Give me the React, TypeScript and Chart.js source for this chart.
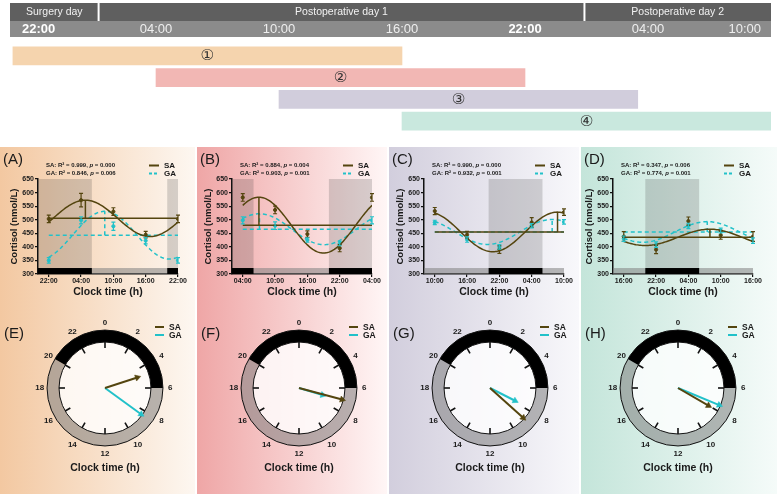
import React, { useEffect, useRef } from 'react';
import { Chart, registerables } from 'chart.js';

Chart.register(...registerables);

const FONT = '"Liberation Sans", Arial, Helvetica, sans-serif';
const SA_COLOR = '#54450f';
const GA_COLOR = '#22c1c9';
const TEXT = '#1a1a1a';

// ---------- header / sampling windows ----------
const dayLabels = ['Surgery day', 'Postoperative day 1', 'Postoperative day 2'];
const dayBreakHours = [3.2, 26.9];
const headerTickHours = [0, 6, 12, 18, 24, 30, 36];
const headerTickLabels = ['22:00', '04:00', '10:00', '16:00', '22:00', '04:00', '10:00'];
const headerTickBold = [true, false, false, false, true, false, false];
const windowLabels = ['\u2460', '\u2461', '\u2462', '\u2463'];
const windowStart = [-1, 6, 12, 18];
const windowEnd = [18, 24, 29.5, 36];
const windowColors = ['#f5d4ae', '#f2b7b4', '#d1cddc', '#c9e8de'];

// ---------- panels ----------
const panelLetters = ['A', 'B', 'C', 'D'];
const clockLetters = ['E', 'F', 'G', 'H'];
const panelStartClock = [22, 4, 10, 16];
const sampleHours = [0, 6, 12, 18, 24];
const tickLabelsA = ['22:00', '04:00', '10:00', '16:00', '22:00'];
const tickLabelsB = ['04:00', '10:00', '16:00', '22:00', '04:00'];
const tickLabelsC = ['10:00', '16:00', '22:00', '04:00', '10:00'];
const tickLabelsD = ['16:00', '22:00', '04:00', '10:00', '16:00'];
const yTicksMin = 300;
const yTicksMax = 650;

const saMeanA = [503, 572, 530, 445, 503];
const saSemA = [14, 25, 14, 12, 14];
const gaMeanA = [350, 498, 476, 423, 350];
const gaSemA = [10, 13, 15, 12, 10];

const saMeanB = [582, 536, 447, 395, 582];
const saSemB = [14, 14, 12, 13, 14];
const gaMeanB = [498, 478, 425, 412, 498];
const gaSemB = [13, 14, 8, 8, 13];

const saMeanC = [532, 445, 390, 490, 528];
const saSemC = [13, 12, 14, 18, 12];
const gaMeanC = [490, 427, 400, 478, 492];
const gaSemC = [8, 10, 8, 8, 8];

const saMeanD = [438, 390, 495, 443, 438];
const saSemD = [18, 15, 15, 15, 18];
const gaMeanD = [430, 408, 477, 460, 423];
const gaSemD = [10, 10, 10, 9, 10];

const saMesor = [505, 480, 455, 435];
const saAmplitude = [67, 103, 73, 30];
const saAcrophase = [4.8, 7.0, 8.8, 8.0];
const gaMesor = [443, 465, 455, 455];
const gaAmplitude = [88, 57, 46, 38];
const gaAcrophase = [8.4, 7.1, 7.8, 7.5];

const saR2 = ['0.999', '0.884', '0.990', '0.347'];
const saP = ['0.000', '0.004', '0.000', '0.006'];
const gaR2 = ['0.846', '0.903', '0.932', '0.774'];
const gaP = ['0.006', '0.001', '0.001', '0.001'];

const nightStartClock = 20;
const nightHours = 10;
const bandTopValue = 322;
const clockHourLabels = [0, 2, 4, 6, 8, 10, 12, 14, 16, 18, 20, 22];

// ---------- layout ----------
const panelLeft = [0, 197, 389, 581];
const panelWidth = [195, 190, 190, 196];
const panelGradFrom = ['#f3c8a1', '#efa6a6', '#d2cedd', '#c4e5da'];
const panelGradTo = ['#fdf7f1', '#fff6f6', '#f8f8fb', '#f5fbf9'];
const plotInset = [38, 35, 35, 32];
const plotWidth = 140;
const clockCenterX = [105, 102, 101, 97];

const tickLabelSets = [tickLabelsA, tickLabelsB, tickLabelsC, tickLabelsD];
const saMeans = [saMeanA, saMeanB, saMeanC, saMeanD];
const saSems = [saSemA, saSemB, saSemC, saSemD];
const gaMeans = [gaMeanA, gaMeanB, gaMeanC, gaMeanD];
const gaSems = [gaSemA, gaSemB, gaSemC, gaSemD];

function cosinorValue(mesor: number, amp: number, acro: number, clock: number) {
  return mesor + amp * Math.cos((2 * Math.PI * (clock - acro)) / 24);
}

function fittedCurve(start: number, mesor: number, amp: number, acro: number) {
  const pts: any[] = [];
  for (let k = 0; k <= 96; k++) {
    const h = k * 0.25;
    pts.push({ x: h, y: cosinorValue(mesor, amp, acro, start + h) });
  }
  return pts;
}

// ---------- plugins ----------
const headerPlugin: any = {
  id: 'timelineHeader',
  beforeDraw(chart: any) {
    const { ctx, chartArea } = chart;
    const x = chart.scales.x;
    const left = chartArea.left - 2.5;
    const right = chartArea.right;
    ctx.save();
    ctx.fillStyle = '#5f5f5f';
    ctx.fillRect(left, 3, right - left, 18);
    ctx.fillStyle = '#8b8b8b';
    ctx.fillRect(left, 21, right - left, 16);
    const bounds = [left, ...dayBreakHours.map((h) => x.getPixelForValue(h)), right];
    ctx.strokeStyle = '#ffffff';
    ctx.lineWidth = 2;
    dayBreakHours.forEach((h) => {
      const px = x.getPixelForValue(h);
      ctx.beginPath();
      ctx.moveTo(px, 3);
      ctx.lineTo(px, 21);
      ctx.stroke();
    });
    ctx.textAlign = 'center';
    ctx.textBaseline = 'middle';
    ctx.fillStyle = '#f2f2f2';
    ctx.font = `10.5px ${FONT}`;
    dayLabels.forEach((t, i) => ctx.fillText(t, (bounds[i] + bounds[i + 1]) / 2, 12.5));
    headerTickHours.forEach((h, i) => {
      ctx.font = `${headerTickBold[i] ? 'bold ' : ''}13px ${FONT}`;
      ctx.fillStyle = headerTickBold[i] ? '#ffffff' : '#eeeeee';
      const half = ctx.measureText(headerTickLabels[i]).width / 2;
      let px = x.getPixelForValue(h);
      px = Math.max(px, left + half + 12);
      px = Math.min(px, right - half - 10);
      ctx.fillText(headerTickLabels[i], px, 29.5);
    });
    ctx.restore();
  },
  afterDatasetsDraw(chart: any) {
    const { ctx } = chart;
    const meta = chart.getDatasetMeta(0);
    ctx.save();
    ctx.font = `15px "DejaVu Sans", ${FONT}`;
    ctx.fillStyle = '#333333';
    ctx.textAlign = 'center';
    ctx.textBaseline = 'middle';
    meta.data.forEach((bar: any, i: number) => {
      const p = bar.getProps(['x', 'y', 'base'], true);
      ctx.fillText(chart.data.labels[i], (p.x + p.base) / 2, p.y + 0.5);
    });
    ctx.restore();
  },
};

function drawStat(ctx: any, x: number, y: number, label: string, r2: string, p: string) {
  const bold = `bold 6px ${FONT}`;
  const boldItalic = `italic bold 6px ${FONT}`;
  ctx.font = bold;
  const a = `${label}: R\u00b2 = ${r2}, `;
  ctx.fillText(a, x, y);
  let cx = x + ctx.measureText(a).width;
  ctx.font = boldItalic;
  ctx.fillText('p', cx, y);
  cx += ctx.measureText('p').width;
  ctx.font = bold;
  ctx.fillText(` = ${p}`, cx, y);
}

function drawLegendEntry(ctx: any, x0: number, x1: number, tx: number, y: number, color: string, dashed: boolean, label: string, size: number) {
  ctx.save();
  ctx.strokeStyle = color;
  ctx.lineWidth = 2;
  ctx.setLineDash(dashed ? [3, 2] : []);
  ctx.beginPath();
  ctx.moveTo(x0, y);
  ctx.lineTo(x1, y);
  ctx.stroke();
  ctx.setLineDash([]);
  ctx.fillStyle = TEXT;
  ctx.font = `bold ${size}px ${FONT}`;
  ctx.textAlign = 'left';
  ctx.textBaseline = 'middle';
  ctx.fillText(label, tx, y + 0.5);
  ctx.restore();
}

const cosinorDecor: any = {
  id: 'cosinorDecor',
  beforeDatasetsDraw(chart: any, _args: any, opts: any) {
    const { ctx, chartArea } = chart;
    const { x, y } = chart.scales;
    const start = panelStartClock[opts.panel];
    const base = (((nightStartClock - start) % 24) + 24) % 24;
    const yTop = y.getPixelForValue(y.max);
    const yBand = y.getPixelForValue(bandTopValue);
    const yBottom = y.getPixelForValue(y.min);
    ctx.save();
    ctx.fillStyle = 'rgba(128,128,128,0.55)';
    ctx.fillRect(chartArea.left, yBand, chartArea.right - chartArea.left, yBottom - yBand);
    for (let k = -2; k <= 2; k++) {
      const a = Math.max(x.min, base + 24 * k);
      const b = Math.min(x.max, base + 24 * k + nightHours);
      if (b <= a) continue;
      const xa = x.getPixelForValue(a);
      const xb = x.getPixelForValue(b);
      ctx.fillStyle = 'rgba(60,60,60,0.2)';
      ctx.fillRect(xa, yTop, xb - xa, yBand - yTop);
      ctx.fillStyle = '#000000';
      ctx.fillRect(xa, yBand, xb - xa, yBottom - yBand);
    }
    ctx.restore();
  },
  afterDatasetsDraw(chart: any) {
    const { ctx } = chart;
    const y = chart.scales.y;
    ctx.save();
    chart.data.datasets.forEach((ds: any, di: number) => {
      if (!ds.errorBars) return;
      const meta = chart.getDatasetMeta(di);
      ctx.strokeStyle = ds.borderColor;
      ctx.lineWidth = 1.2;
      meta.data.forEach((pt: any, j: number) => {
        const v = ds.data[j].y;
        const e = ds.errorBars[j];
        const y1 = y.getPixelForValue(v + e);
        const y2 = y.getPixelForValue(v - e);
        ctx.beginPath();
        ctx.moveTo(pt.x, y1);
        ctx.lineTo(pt.x, y2);
        ctx.moveTo(pt.x - 2, y1);
        ctx.lineTo(pt.x + 2, y1);
        ctx.moveTo(pt.x - 2, y2);
        ctx.lineTo(pt.x + 2, y2);
        ctx.stroke();
      });
    });
    ctx.restore();
  },
  afterDraw(chart: any, _args: any, opts: any) {
    const { ctx, chartArea } = chart;
    const i = opts.panel;
    ctx.save();
    ctx.fillStyle = TEXT;
    ctx.textAlign = 'left';
    ctx.textBaseline = 'middle';
    ctx.font = `15px ${FONT}`;
    ctx.fillText(`(${panelLetters[i]})`, 3, 14);
    drawStat(ctx, chartArea.left + 8, chartArea.top - 13.5, 'SA', saR2[i], saP[i]);
    drawStat(ctx, chartArea.left + 8, chartArea.top - 5.5, 'GA', gaR2[i], gaP[i]);
    ctx.restore();
    const r = chartArea.right;
    drawLegendEntry(ctx, r - 29, r - 19, r - 14, chartArea.top - 13.5, SA_COLOR, false, 'SA', 8);
    drawLegendEntry(ctx, r - 29, r - 19, r - 14, chartArea.top - 5.5, GA_COLOR, true, 'GA', 8);
  },
};

const clockDecor: any = {
  id: 'clockDecor',
  beforeDatasetsDraw(chart: any) {
    const { ctx } = chart;
    const { x, y } = chart.scales;
    const cx = x.getPixelForValue(0);
    const cy = y.getPixelForValue(0);
    const u = x.getPixelForValue(1) - cx;
    const rIn = u;
    const rOut = u * 1.26;
    const ang = (h: number) => ((h * 15 - 90) * Math.PI) / 180;
    ctx.save();
    ctx.beginPath();
    ctx.arc(cx, cy, rIn, 0, Math.PI * 2);
    ctx.fillStyle = 'rgba(255,255,255,0.8)';
    ctx.fill();
    const ring = (h0: number, h1: number, color: string) => {
      ctx.beginPath();
      ctx.arc(cx, cy, rOut, ang(h0), ang(h1));
      ctx.arc(cx, cy, rIn, ang(h1), ang(h0), true);
      ctx.closePath();
      ctx.fillStyle = color;
      ctx.fill();
    };
    const nightEnd = nightStartClock + nightHours;
    ring(nightEnd - 24, nightStartClock, 'rgba(128,128,128,0.55)');
    ring(nightStartClock, nightEnd, '#000000');
    ctx.strokeStyle = '#111111';
    ctx.lineWidth = 1;
    ctx.beginPath();
    ctx.arc(cx, cy, rOut, 0, Math.PI * 2);
    ctx.stroke();
    ctx.beginPath();
    ctx.arc(cx, cy, rIn, 0, Math.PI * 2);
    ctx.stroke();
    ctx.lineWidth = 1.6;
    clockHourLabels.forEach((h) => {
      const a = ang(h);
      ctx.beginPath();
      ctx.moveTo(cx + Math.cos(a) * rIn * 0.87, cy + Math.sin(a) * rIn * 0.87);
      ctx.lineTo(cx + Math.cos(a) * rIn, cy + Math.sin(a) * rIn);
      ctx.stroke();
    });
    ctx.fillStyle = TEXT;
    ctx.font = `bold 8px ${FONT}`;
    ctx.textAlign = 'center';
    ctx.textBaseline = 'middle';
    clockHourLabels.forEach((h) => {
      const a = ang(h);
      ctx.fillText(String(h), cx + Math.cos(a) * rIn * 1.42, cy + Math.sin(a) * rIn * 1.42);
    });
    ctx.restore();
  },
  afterDraw(chart: any, _args: any, opts: any) {
    const { ctx } = chart;
    const { x, y } = chart.scales;
    const cx = x.getPixelForValue(0);
    const cy = y.getPixelForValue(0);
    const i = opts.panel;
    ctx.save();
    ctx.fillStyle = TEXT;
    ctx.textBaseline = 'middle';
    ctx.textAlign = 'left';
    ctx.font = `15px ${FONT}`;
    ctx.fillText(`(${clockLetters[i]})`, 4, 34);
    ctx.textAlign = 'center';
    ctx.font = `bold 10.5px ${FONT}`;
    ctx.fillText('Clock time (h)', cx, cy + 80);
    ctx.restore();
    drawLegendEntry(ctx, cx + 50, cx + 59, cx + 64, 27, SA_COLOR, false, 'SA', 8.5);
    drawLegendEntry(ctx, cx + 50, cx + 59, cx + 64, 35, GA_COLOR, false, 'GA', 8.5);
  },
};

// ---------- configs ----------
function seriesDatasets(i: number, color: string, dashed: boolean, mesor: number, amp: number, acro: number, means: number[], sems: number[]) {
  const start = panelStartClock[i];
  const dash = dashed ? [4, 3] : [];
  const peakX = (((acro - start) % 24) + 24) % 24;
  const line = { borderColor: color, borderWidth: 1.5, borderDash: dash, pointRadius: 0, showLine: true, fill: false, tension: 0 };
  return [
    { ...line, data: fittedCurve(start, mesor, amp, acro) },
    { ...line, data: [{ x: sampleHours[0], y: mesor }, { x: sampleHours[sampleHours.length - 1], y: mesor }] },
    { ...line, data: [{ x: peakX, y: mesor }, { x: peakX, y: mesor + amp }] },
    {
      data: sampleHours.map((h, j) => ({ x: h, y: means[j] })),
      showLine: false,
      pointRadius: 1.6,
      pointBackgroundColor: color,
      pointBorderColor: color,
      borderColor: color,
      errorBars: sems,
    },
  ];
}

function cosinorConfig(i: number) {
  const axisFont = { family: FONT, size: 7, weight: 'bold' };
  const grid = { drawOnChartArea: false, drawTicks: true, tickLength: 3, color: '#111111', lineWidth: 1.2 };
  const border = { display: true, color: '#111111', width: 1.5 };
  return {
    type: 'scatter',
    data: {
      datasets: [
        ...seriesDatasets(i, SA_COLOR, false, saMesor[i], saAmplitude[i], saAcrophase[i], saMeans[i], saSems[i]),
        ...seriesDatasets(i, GA_COLOR, true, gaMesor[i], gaAmplitude[i], gaAcrophase[i], gaMeans[i], gaSems[i]),
      ],
    },
    options: {
      animation: false,
      responsive: false,
      layout: { padding: { left: plotInset[i] - 35, right: panelWidth[i] - plotInset[i] - plotWidth, top: 33, bottom: 0 } },
      plugins: { legend: { display: false }, tooltip: { enabled: false }, cosinorDecor: { panel: i } },
      scales: {
        x: {
          type: 'linear',
          min: -2,
          max: 24,
          afterBuildTicks: (s: any) => {
            s.ticks = sampleHours.map((v) => ({ value: v }));
          },
          afterFit: (s: any) => {
            s.height = 26;
          },
          ticks: {
            autoSkip: false,
            maxRotation: 0,
            padding: 0,
            color: TEXT,
            font: axisFont,
            callback: (_v: any, idx: number) => tickLabelSets[i][idx],
          },
          grid,
          border,
          title: { display: true, text: 'Clock time (h)', color: TEXT, font: { family: FONT, size: 10.5, weight: 'bold' }, padding: { top: 0, bottom: 2 } },
        },
        y: {
          type: 'linear',
          min: yTicksMin,
          max: yTicksMax,
          afterFit: (s: any) => {
            s.width = 35;
          },
          ticks: { stepSize: 50, padding: 1, color: TEXT, font: axisFont },
          grid,
          border,
          title: { display: true, text: 'Cortisol (nmol/L)', color: TEXT, font: { family: FONT, size: 9.5, weight: 'bold' }, padding: { top: 6, bottom: 0 } },
        },
      },
    },
    plugins: [cosinorDecor],
  };
}

function arrowDataset(color: string, acro: number, length: number) {
  const th = (acro * 15 * Math.PI) / 180;
  return {
    data: [{ x: 0, y: 0 }, { x: length * Math.sin(th), y: length * Math.cos(th) }],
    showLine: true,
    borderColor: color,
    borderWidth: 2,
    pointRadius: [0, 3.6],
    pointStyle: 'triangle',
    rotation: [0, acro * 15],
    pointBackgroundColor: color,
    pointBorderColor: color,
    pointBorderWidth: 0.5,
    clip: false,
  };
}

function clockConfig(i: number) {
  const maxAmp = Math.max(saAmplitude[i], gaAmplitude[i]);
  const cx = clockCenterX[i];
  return {
    type: 'scatter',
    data: {
      datasets: [
        arrowDataset(SA_COLOR, saAcrophase[i], (saAmplitude[i] / maxAmp) * 0.97),
        arrowDataset(GA_COLOR, gaAcrophase[i], (gaAmplitude[i] / maxAmp) * 0.97),
      ],
    },
    options: {
      animation: false,
      responsive: false,
      layout: { padding: { left: cx - 46, right: panelWidth[i] - cx - 46, top: 42, bottom: 194 - 88 - 46 } },
      plugins: { legend: { display: false }, tooltip: { enabled: false }, clockDecor: { panel: i } },
      scales: {
        x: { type: 'linear', min: -1, max: 1, display: false },
        y: { type: 'linear', min: -1, max: 1, display: false },
      },
    },
    plugins: [clockDecor],
  };
}

function timelineConfig() {
  return {
    type: 'bar',
    data: {
      labels: windowLabels,
      datasets: [
        {
          data: windowStart.map((s, i) => [s, windowEnd[i]]),
          backgroundColor: windowColors,
          borderWidth: 0,
          borderSkipped: false,
          barThickness: 18,
        },
      ],
    },
    options: {
      indexAxis: 'y',
      animation: false,
      responsive: false,
      layout: { padding: { left: 12.5, right: 6, top: 45, bottom: 8 } },
      plugins: { legend: { display: false }, tooltip: { enabled: false } },
      scales: {
        x: { type: 'linear', min: -1, max: 36, display: false },
        y: { display: false },
      },
    },
    plugins: [headerPlugin],
  };
}

function ChartCanvas({ left, top, width, height, config }: any) {
  const ref = useRef<HTMLCanvasElement>(null);
  useEffect(() => {
    const chart = new Chart(ref.current as HTMLCanvasElement, config());
    return () => chart.destroy();
  }, []);
  return <canvas ref={ref} width={width} height={height} style={{ position: 'absolute', left, top, width, height }} />;
}

export default function App() {
  return (
    <div style={{ position: 'absolute', left: 0, top: 0, width: 777, height: 497, background: '#ffffff', overflow: 'hidden' }}>
      {panelLeft.map((l, i) => (
        <div
          key={'bg' + i}
          style={{
            position: 'absolute',
            left: l,
            top: 147,
            width: panelWidth[i],
            height: 347,
            background: `linear-gradient(to right, ${panelGradFrom[i]}, ${panelGradTo[i]})`,
          }}
        />
      ))}
      <ChartCanvas left={0} top={0} width={777} height={140} config={timelineConfig} />
      {panelLetters.map((_, i) => (
        <ChartCanvas key={'c' + i} left={panelLeft[i]} top={146} width={panelWidth[i]} height={154} config={() => cosinorConfig(i)} />
      ))}
      {clockLetters.map((_, i) => (
        <ChartCanvas key={'k' + i} left={panelLeft[i]} top={300} width={panelWidth[i]} height={194} config={() => clockConfig(i)} />
      ))}
    </div>
  );
}
